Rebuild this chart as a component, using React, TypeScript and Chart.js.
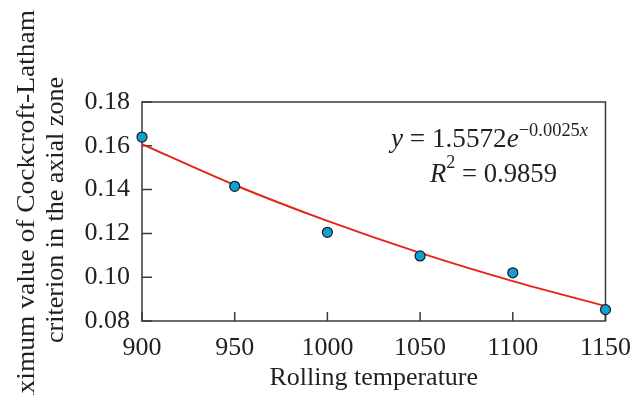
import React, { useEffect, useRef } from 'react';
import { Chart, registerables } from 'chart.js';

Chart.register(...registerables);

// ---- data ----
const temperatures = [900, 950, 1000, 1050, 1100, 1150];
const criterionValues = [0.164, 0.1415, 0.1205, 0.1097, 0.102, 0.0852];
const fitValues = [0.1608, 0.1421, 0.1257, 0.1111, 0.0982, 0.0868];
const xTickValues = [900, 950, 1000, 1050, 1100, 1150];
const yTickValues = [0.08, 0.1, 0.12, 0.14, 0.16, 0.18];
const xTitle = 'Rolling temperature';
const yTitleLines = ['Maximum value of Cockcroft-Latham', 'criterion in the axial zone'];
const eqCoefficient = '1.5572';
const eqExponent = '−0.0025';
const eqR2 = '0.9859';

const FONT = '"Liberation Serif", "Times New Roman", serif';
const TEXT = '#231f20';
const FRAME = '#3a3a3a';

type Seg = { t: string; italic?: boolean; size: number; dy?: number };

function drawSegs(ctx: CanvasRenderingContext2D, segs: Seg[], x0: number, baseline: number, width: number, align: 'left' | 'center') {
  let total = 0;
  const widths = segs.map((s) => {
    ctx.font = `${s.italic ? 'italic ' : ''}${s.size}px ${FONT}`;
    const w = ctx.measureText(s.t).width;
    total += w;
    return w;
  });
  const sx = width / total;
  ctx.save();
  const start = align === 'left' ? x0 : x0 - width / 2;
  ctx.translate(start, baseline);
  ctx.scale(sx, 1);
  let x = 0;
  segs.forEach((s, i) => {
    ctx.font = `${s.italic ? 'italic ' : ''}${s.size}px ${FONT}`;
    ctx.fillText(s.t, x, s.dy || 0);
    x += widths[i];
  });
  ctx.restore();
}

const framePlugin = {
  id: 'frameTicks',
  beforeDatasetsDraw(chart: any) {
    const { ctx, chartArea, scales } = chart;
    const { left, right, top, bottom } = chartArea;
    ctx.save();
    ctx.strokeStyle = FRAME;
    ctx.lineWidth = 1.5;
    ctx.strokeRect(left, top, right - left, bottom - top);
    ctx.beginPath();
    yTickValues.forEach((v) => {
      const py = scales.y.getPixelForValue(v);
      ctx.moveTo(left, py);
      ctx.lineTo(left + 10, py);
    });
    xTickValues.forEach((v) => {
      const px = scales.x.getPixelForValue(v);
      ctx.moveTo(px, bottom);
      ctx.lineTo(px, bottom - 9);
    });
    ctx.stroke();
    ctx.restore();
  },
};

const textPlugin = {
  id: 'texts',
  afterDraw(chart: any) {
    const { ctx } = chart;
    ctx.save();
    ctx.fillStyle = TEXT;
    ctx.font = `26px ${FONT}`;
    ctx.textAlign = 'left';
    ctx.textBaseline = 'alphabetic';
    // y-axis title: [baseline x, top end y, length]
    const placements = [
      [34, 10, 420],
      [62.5, 77, 266],
    ];
    yTitleLines.forEach((line, i) => {
      const [bx, endY, len] = placements[i];
      const w = ctx.measureText(line).width;
      ctx.save();
      ctx.translate(bx, endY + len);
      ctx.rotate(-Math.PI / 2);
      ctx.scale(len / w, 1);
      ctx.fillText(line, 0, 0);
      ctx.restore();
    });
    drawSegs(
      ctx,
      [
        { t: 'y', italic: true, size: 28 },
        { t: ' = ' + eqCoefficient, size: 28 },
        { t: 'e', italic: true, size: 28 },
        { t: eqExponent, size: 19, dy: -11 },
        { t: 'x', italic: true, size: 19, dy: -11 },
      ],
      391,
      147,
      197,
      'left'
    );
    drawSegs(
      ctx,
      [
        { t: 'R', italic: true, size: 28 },
        { t: '2', size: 19, dy: -14 },
        { t: ' = ' + eqR2, size: 28 },
      ],
      493.5,
      182,
      127,
      'center'
    );
    ctx.restore();
  },
};

export default function App() {
  const ref = useRef<HTMLCanvasElement | null>(null);
  useEffect(() => {
    if (!ref.current) return;
    const chart = new Chart(ref.current, {
      type: 'scatter',
      data: {
        datasets: [
          {
            label: 'Data',
            data: temperatures.map((t, i) => ({ x: t, y: criterionValues[i] })),
            backgroundColor: '#0fa0d6',
            borderColor: '#1a1a1a',
            borderWidth: 1.2,
            pointRadius: 5,
            showLine: false,
            clip: false as any,
          },
          {
            label: 'Fit',
            data: temperatures.map((t, i) => ({ x: t, y: fitValues[i] })),
            showLine: true,
            borderColor: '#e3261b',
            borderWidth: 2,
            pointRadius: 0,
            cubicInterpolationMode: 'monotone',
            fill: false,
          } as any,
        ],
      },
      options: {
        animation: false,
        responsive: false,
        devicePixelRatio: 1,
        layout: { padding: { top: 102, right: 35, left: 0, bottom: 0 } },
        plugins: { legend: { display: false }, tooltip: { enabled: false } },
        scales: {
          x: {
            type: 'linear',
            min: 900,
            max: 1150,
            afterBuildTicks: (s: any) => {
              s.ticks = xTickValues.map((v) => ({ value: v }));
            },
            afterFit: (s: any) => {
              s.height = 74;
            },
            grid: { display: false, drawTicks: false },
            border: { display: false },
            ticks: {
              color: TEXT,
              padding: 12,
              maxRotation: 0,
              font: { family: FONT, size: 26 },
              callback: (v: any) => String(v),
            },
            title: {
              display: true,
              text: xTitle,
              color: TEXT,
              font: { family: FONT, size: 26, lineHeight: 1.2 },
              padding: { top: 0, bottom: 1 },
            },
          },
          y: {
            type: 'linear',
            min: 0.08,
            max: 0.18,
            afterBuildTicks: (s: any) => {
              s.ticks = yTickValues.map((v) => ({ value: v }));
            },
            afterFit: (s: any) => {
              s.width = 142;
            },
            grid: { display: false, drawTicks: false },
            border: { display: false },
            ticks: {
              color: TEXT,
              padding: 12,
              font: { family: FONT, size: 26 },
              callback: (v: any) => Number(v).toFixed(2),
            },
          },
        },
      },
      plugins: [framePlugin, textPlugin],
    });
    return () => chart.destroy();
  }, []);
  return (
    <div style={{ position: 'fixed', left: 0, top: 0, width: 643, height: 395, background: '#fff' }}>
      <canvas ref={ref} width={643} height={395} style={{ display: 'block', width: 643, height: 395 }} />
    </div>
  );
}
